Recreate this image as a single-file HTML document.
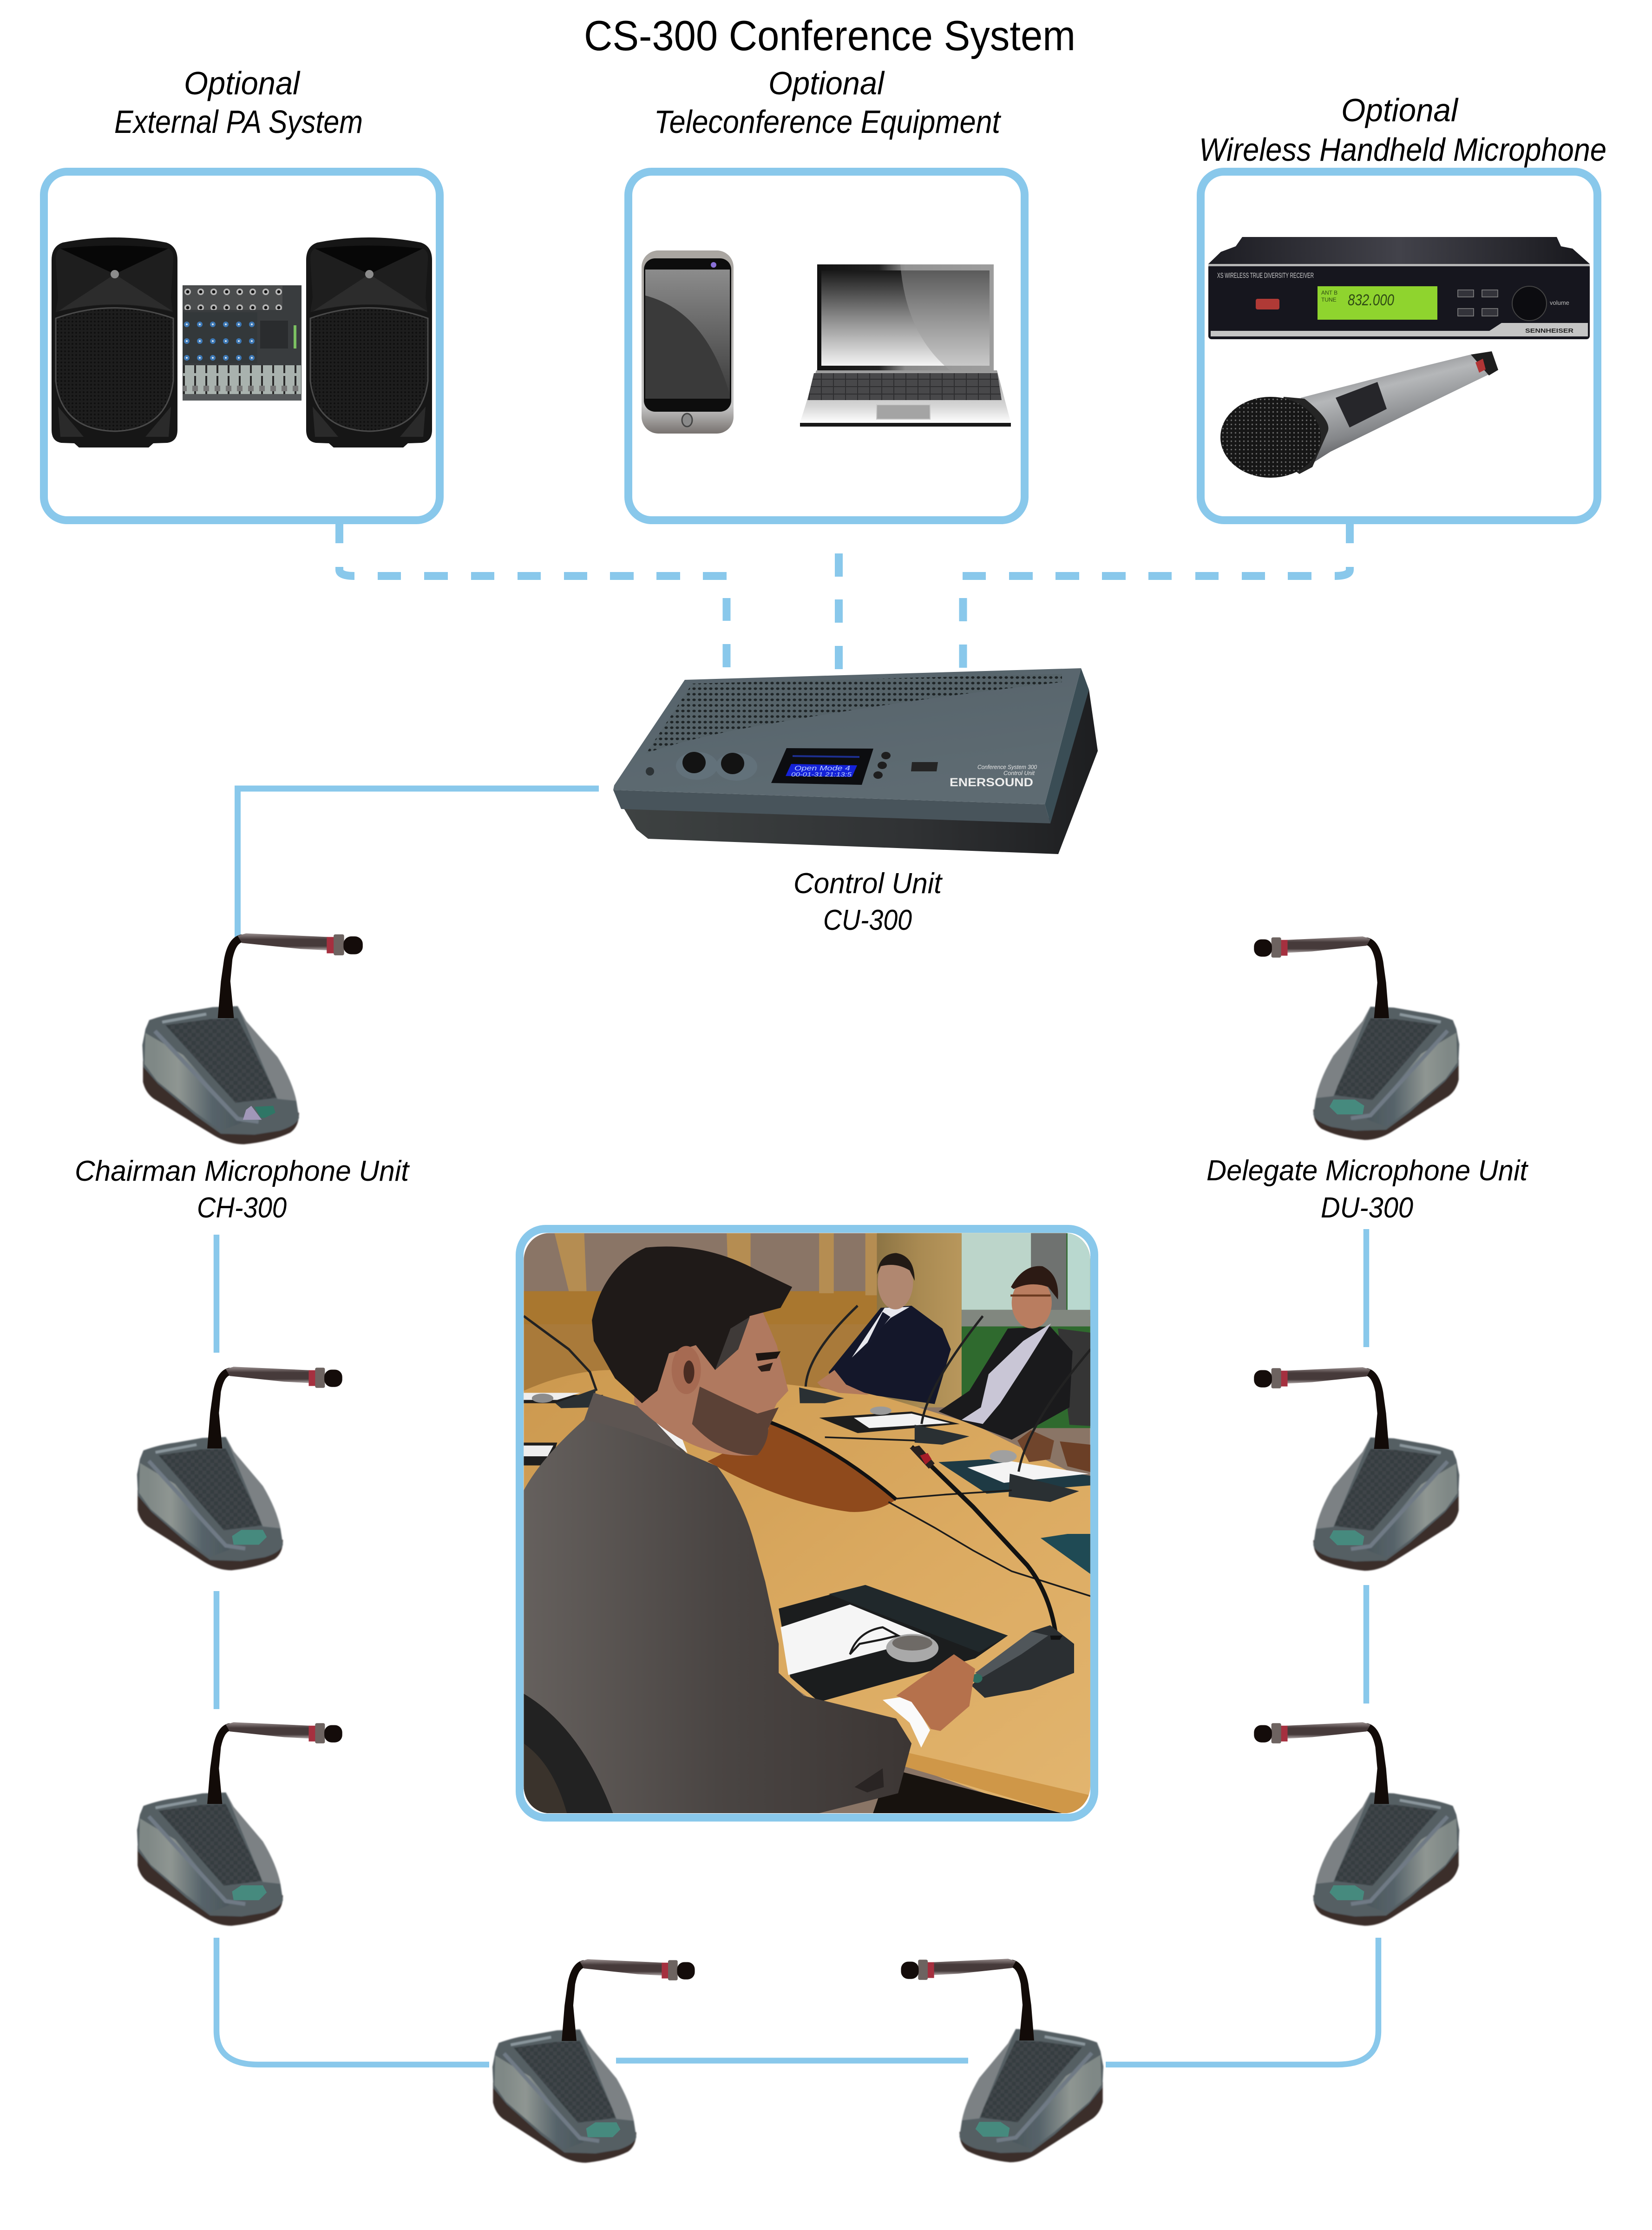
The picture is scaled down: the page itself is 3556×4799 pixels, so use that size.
<!DOCTYPE html>
<html><head><meta charset="utf-8"><title>CS-300 Conference System</title>
<style>html,body{margin:0;padding:0;background:#fff}svg{display:block}
text{font-family:"Liberation Sans",sans-serif;fill:#000}</style></head><body>
<svg xmlns="http://www.w3.org/2000/svg" width="3556" height="4799" viewBox="0 0 3556 4799">
<defs>
<filter id="soft" x="-5%" y="-5%" width="110%" height="110%"><feGaussianBlur stdDeviation="3"/></filter>
<linearGradient id="mSide" x1="0" y1="0" x2="1" y2="0"><stop offset=".1" stop-color="#7f8886"/><stop offset=".35" stop-color="#8f9692"/><stop offset=".7" stop-color="#56636a"/><stop offset="1" stop-color="#4c575c"/></linearGradient>
<linearGradient id="mBar" x1="0" y1="0" x2="0" y2="1"><stop offset="0" stop-color="#9a9090"/><stop offset=".35" stop-color="#463a3a"/><stop offset=".75" stop-color="#463a3a"/><stop offset="1" stop-color="#b0a8a8"/></linearGradient>
<pattern id="chk" width="40" height="40" patternUnits="userSpaceOnUse"><rect width="40" height="40" fill="#3f4548"/><rect width="20" height="20" fill="#363c3f"/><rect x="20" y="20" width="20" height="20" fill="#363c3f"/></pattern>
<pattern id="dots" width="12" height="12" patternUnits="userSpaceOnUse"><rect width="12" height="12" fill="#566369"/><ellipse cx="6" cy="6" rx="3.6" ry="2.8" fill="#1e2426"/></pattern>
<pattern id="spk" width="8" height="8" patternUnits="userSpaceOnUse"><rect width="8" height="8" fill="#1d1d1d"/><circle cx="4" cy="4" r="2" fill="#0f0f0f"/></pattern>
<pattern id="mixK" width="28" height="36" patternUnits="userSpaceOnUse"><rect width="28" height="36" fill="#33383a"/><circle cx="10" cy="14" r="6" fill="#3d78b5"/><circle cx="10" cy="14" r="2" fill="#d8e4ef"/></pattern>
<pattern id="mixJ" width="28" height="34" patternUnits="userSpaceOnUse"><rect width="28" height="34" fill="#4a4c4d"/><circle cx="12" cy="16" r="7" fill="#b8b8b8"/><circle cx="12" cy="16" r="3.5" fill="#111"/></pattern>
<pattern id="mixF" width="24" height="62" patternUnits="userSpaceOnUse"><rect width="24" height="62" fill="#a9b2ae"/><rect x="10" y="3" width="4" height="56" fill="#2a2a2a"/><rect x="6" y="24" width="12" height="12" fill="#777"/></pattern>
<pattern id="keys" width="26" height="16" patternUnits="userSpaceOnUse"><rect width="26" height="16" fill="#2e2e30"/><rect x="1" y="1" width="24" height="14" fill="#48484a"/></pattern>
<pattern id="mesh" width="9" height="9" patternUnits="userSpaceOnUse"><rect width="9" height="9" fill="#161616"/><circle cx="4.5" cy="4.5" r="1.7" fill="#666"/></pattern>
<linearGradient id="cuTop" x1="0" y1="0" x2=".4" y2="1"><stop offset="0" stop-color="#56636b"/><stop offset="1" stop-color="#5e6b72"/></linearGradient>
<linearGradient id="cuBase" x1="0" y1="0" x2="1" y2="0"><stop offset="0" stop-color="#3e4242"/><stop offset=".6" stop-color="#303234"/><stop offset="1" stop-color="#1d1e20"/></linearGradient>
<linearGradient id="phS" x1="0" y1="0" x2="0" y2="1"><stop offset="0" stop-color="#8c8c8c"/><stop offset="1" stop-color="#3a3a3a"/></linearGradient>
<linearGradient id="phB" x1="0" y1="0" x2="0" y2="1"><stop offset="0" stop-color="#a9a5a0"/><stop offset=".85" stop-color="#c6c6c6"/><stop offset="1" stop-color="#77726f"/></linearGradient>
<linearGradient id="lapF" x1="0" y1="0" x2="1" y2="0"><stop offset="0" stop-color="#111"/><stop offset=".35" stop-color="#222"/><stop offset=".5" stop-color="#8a8a8a"/><stop offset="1" stop-color="#9c9c9c"/></linearGradient>
<linearGradient id="lapS" x1="0" y1="0" x2="0" y2="1"><stop offset="0" stop-color="#181818"/><stop offset=".5" stop-color="#8a8a8a"/><stop offset="1" stop-color="#f4f4f4"/></linearGradient>
<linearGradient id="lapB" x1="0" y1="0" x2="0" y2="1"><stop offset="0" stop-color="#9a9a9a"/><stop offset=".7" stop-color="#d8d8d8"/><stop offset="1" stop-color="#ffffff"/></linearGradient>
<linearGradient id="rxT" x1="0" y1="0" x2="1" y2="0"><stop offset="0" stop-color="#1c1c22"/><stop offset=".5" stop-color="#42424a"/><stop offset="1" stop-color="#17171c"/></linearGradient>
<linearGradient id="hhB" x1="0" y1="0" x2=".45" y2="1"><stop offset="0" stop-color="#5a5a5e"/><stop offset=".4" stop-color="#b5b7b9"/><stop offset=".7" stop-color="#85878a"/><stop offset="1" stop-color="#3e3e42"/></linearGradient>
<linearGradient id="tbl" x1="0" y1="0" x2="1" y2="1"><stop offset="0" stop-color="#cc994f"/><stop offset=".6" stop-color="#dcab62"/><stop offset="1" stop-color="#e2b56f"/></linearGradient>
<linearGradient id="curt" x1="0" y1="0" x2="1" y2="0"><stop offset="0" stop-color="#8c7444"/><stop offset=".5" stop-color="#a98a52"/><stop offset="1" stop-color="#b8975c"/></linearGradient>
<linearGradient id="sui" x1="0" y1="0" x2="1" y2="0"><stop offset="0" stop-color="#65605d"/><stop offset=".5" stop-color="#4a4543"/><stop offset="1" stop-color="#3c3634"/></linearGradient>
<clipPath id="phc"><rect x="33" y="60" width="1471" height="1398" rx="66"/></clipPath>
<g id="mic">
<g filter="url(#soft)">
<path d="M148,800 L148,905 Q160,960 200,990 L490,1175 Q560,1218 630,1218 Q760,1205 850,1160 Q893,1130 893,1060 L700,1000Z" fill="#3b2e2c"/>
<path d="M178,595 Q260,565 340,555 L480,530 L600,525 L640,600 L790,780 Q860,900 880,1000 L893,1085 Q880,1125 800,1150 L680,1170 L520,1165 L400,1075 L220,915 L150,830 L145,720 L160,640Z" fill="#555f64"/>
<path d="M600,525 L640,600 L790,780 Q860,900 880,1000 L790,990 Z" fill="#7b8184"/>
<path d="M160,660 L340,770 L620,1110 L520,1150 L400,1060 L215,900 L155,815Z" fill="url(#mSide)"/>
<path d="M255,620 L470,590 L600,585 L770,940 L785,985 L590,1010Z" fill="url(#chk)"/>
<path d="M205,650 L600,1090 L700,1105" stroke="#6f7a85" stroke-width="20" fill="none"/>
<path d="M240,605 L450,565" stroke="#8b979d" stroke-width="14"/>
</g>
<path d="M505,585 L520,400 L535,290 Q555,175 620,165 L620,205 Q590,215 575,290 L565,400 L582,585Z" fill="#120b08"/>
<path d="M600,172 L640,160 L1030,178 L1030,245 L900,238 L620,208Z" fill="url(#mBar)"/>
<rect x="1025" y="178" width="35" height="82" fill="#a5303f"/>
<rect x="1058" y="165" width="50" height="105" rx="8" fill="#6d6360"/>
<rect x="1105" y="175" width="92" height="90" rx="38" fill="#140c0a"/>
</g>
<path id="tb" d="M632,1040 L680,1008 L790,1008 L810,1045 L770,1085 L640,1085Z" fill="#468a7e"/>
<g id="spkr">
<path d="M135,522 Q246,500 358,522 Q382,530 382,560 L382,925 Q382,950 360,953 L330,954 L320,963 L170,963 L160,954 L132,953 Q111,950 111,925 L111,560 Q111,530 135,522Z" fill="#161616"/>
<path d="M130,535 Q246,522 362,535 Q375,540 373,560 L368,640 L372,672 Q246,640 120,672 L125,640 L120,560 Q119,540 130,535Z" fill="#1e1e1e"/>
<path d="M130,535 L247,590 L362,535 Q246,522 130,535Z" fill="#070707"/>
<path d="M125,670 L247,590 L372,670 Q246,640 125,670Z" fill="#2c2c2c"/>
<circle cx="247" cy="590" r="9" fill="#8c8c8c"/>
<path d="M120,685 Q246,640 373,685 L373,820 Q360,925 247,928 Q132,925 120,820Z" fill="url(#spk)" stroke="#4a4a4a" stroke-width="3"/>
<path d="M125,875 L180,940 L130,940ZM368,875 L313,940 L363,940Z" fill="#2a2a2a"/>
</g>
</defs>
<rect width="3556" height="4799" fill="#fff"/>

<!-- connectors -->
<g fill="none" stroke="#89c8eb">
<rect x="94.5" y="369.5" width="852" height="750" rx="50" stroke-width="17"/>
<rect x="1352.5" y="369.5" width="853" height="750" rx="50" stroke-width="17"/>
<rect x="2584.5" y="369.5" width="854" height="750" rx="50" stroke-width="17"/>
<g stroke-width="17">
<path d="M730.5,1128V1169M730.5,1220V1226Q730.5,1239.5 763,1239.5"/>
<path d="M813,1239.5H863M913,1239.5H964M1014,1239.5H1064M1114,1239.5H1164M1214,1239.5H1264M1313,1239.5H1364M1413,1239.5H1464M1513,1239.5H1564"/>
<path d="M1564,1287V1336M1564,1386V1436M1805.5,1191V1241M1805.5,1290V1340M1805.5,1390V1440M2073,1287V1337M2073,1387V1437"/>
<path d="M2072,1239.5H2122M2172,1239.5H2223M2272,1239.5H2323M2372,1239.5H2423M2472,1239.5H2522M2573,1239.5H2623M2673,1239.5H2723M2772,1239.5H2823M2873,1239.5Q2905.5,1239.5 2905.5,1226V1220M2905.5,1169V1128"/>
</g>
<path d="M511.5,2020V1697H1289" stroke-width="13"/>
<g stroke-width="12.5">
<path d="M466,2657V2911M466,3424V3678"/>
<path d="M466,4170V4370Q466,4443 556,4443H1053"/>
<path d="M1326,4434.5H2084"/>
<path d="M2380,4443H2878Q2967,4443 2967,4370V4170"/>
<path d="M2941,2645V2899M2941,3411V3666"/>
</g>
</g>

<!-- speakers -->
<use href="#spkr"/>
<use href="#spkr" x="548"/>
<!-- mixer -->
<rect x="393" y="614" width="256" height="248" fill="#393c3e"/>
<rect x="394" y="615" width="214" height="52" fill="url(#mixJ)"/>
<rect x="394" y="672" width="160" height="110" fill="url(#mixK)"/>
<rect x="560" y="690" width="60" height="60" fill="#2a2c2e"/>
<rect x="632" y="700" width="6" height="50" fill="#7bc061"/>
<rect x="394" y="786" width="254" height="62" fill="url(#mixF)"/>
<rect x="393" y="848" width="256" height="14" fill="#55585a"/>

<!-- phone -->
<rect x="1381" y="539" width="198" height="394" rx="36" fill="url(#phB)"/>
<rect x="1386" y="556" width="188" height="330" rx="24" fill="#0d0d0d"/>
<rect x="1389" y="580" width="182" height="278" fill="url(#phS)"/>
<path d="M1389,636 Q1520,670 1571,850 L1571,858 L1389,858Z" fill="#3a3a3a"/>
<ellipse cx="1479" cy="904" rx="11" ry="14" fill="#8a8a8a" stroke="#444" stroke-width="3"/>
<circle cx="1536" cy="570" r="6" fill="#8a70d8"/>

<!-- laptop -->
<rect x="1759" y="569" width="380" height="228" fill="url(#lapF)"/>
<rect x="1768" y="582" width="362" height="205" fill="url(#lapS)"/>
<path d="M1938,569 H2139 V797 H2045 Q1950,720 1938,569Z" fill="#9d9d9d" opacity=".5"/>
<path d="M1757,797 H2146 L2176,910 H1722Z" fill="url(#lapB)"/>
<path d="M1752,803 H2147 L2156,861 H1738Z" fill="url(#keys)"/>
<rect x="1887" y="871" width="115" height="31" fill="#a4a4a4" stroke="#c8c8c8" stroke-width="2"/>
<rect x="1722" y="910" width="454" height="8" fill="#191919"/>

<!-- receiver -->
<path d="M2674,510 H3351 L3360,530 L3385,535 L3422,568 H2601 L2628,542 L2660,530Z" fill="url(#rxT)"/>
<rect x="2601" y="568" width="821" height="162" rx="7" fill="#16161e"/>
<rect x="2601" y="568" width="821" height="5" fill="#b5b5b5"/>
<path d="M2606,712 H3206 L3232,695 H3418 V724 H2606Z" fill="#c5c5c5"/>
<rect x="2836" y="616" width="258" height="72" fill="#8fd42e"/>
<text x="2901" y="657" font-size="34" font-style="italic" textLength="100" lengthAdjust="spacingAndGlyphs" style="fill:#2f4b14">832.000</text>
<text x="2844" y="634" font-size="12" style="fill:#2f4b14">ANT B</text>
<text x="2844" y="649" font-size="12" style="fill:#2f4b14">TUNE</text>
<rect x="2703" y="643" width="51" height="23" rx="4" fill="#b03a36"/>
<g fill="#33333a" stroke="#888" stroke-width="1.5"><rect x="3138" y="624" width="34" height="15"/><rect x="3190" y="624" width="34" height="15"/><rect x="3138" y="664" width="34" height="16"/><rect x="3190" y="664" width="34" height="16"/></g>
<circle cx="3292" cy="653" r="37" fill="#0c0c10" stroke="#444" stroke-width="2"/>
<text x="2620" y="598" font-size="16" textLength="208" lengthAdjust="spacingAndGlyphs" style="fill:#ccc">XS WIRELESS TRUE DIVERSITY RECEIVER</text>
<text x="3283" y="716" font-size="13" font-weight="bold" textLength="104" lengthAdjust="spacingAndGlyphs" style="fill:#222">SENNHEISER</text>
<text x="3336" y="656" font-size="13" style="fill:#bbb">volume</text>

<!-- handheld mic -->
<path d="M2800,856 L3032,796 L3166,763 L3205,765 L3225,796 L3054,879 L2864,972 L2820,1000Z" fill="url(#hhB)"/>
<path d="M3166,763 L3211,756 L3225,796 L3205,808Z" fill="#1e1e1e"/>
<path d="M3176,780 L3192,772 L3198,795 L3184,802Z" fill="#b23535"/>
<path d="M2875,856 L2965,822 L2985,880 L2905,920Z" fill="#26262a"/>
<path d="M2763,854 L2808,858 Q2868,905 2858,929 L2825,1005 L2797,1020 L2740,980Z" fill="#252525"/>
<ellipse cx="2735" cy="941" rx="108" ry="87" fill="url(#mesh)"/>

<!-- control unit -->
<path d="M1340,1735 L2261,1760 L2344,1484 L2363,1616 L2278,1838 L1395,1805 L1370,1785Z" fill="url(#cuBase)"/>
<path d="M1320,1700 L2249,1731 L2261,1772 L1337,1741Z" fill="#48545b"/>
<path d="M2327,1438 L2344,1484 L2261,1772 L2249,1731Z" fill="#3a4d55"/>
<path d="M1474,1463 L2327,1438 L2249,1731 L1320,1700 L1322,1690Z" fill="url(#cuTop)"/>
<path d="M1490,1471 L2286,1450 L2286,1468 Q1950,1505 1615,1565 Q1480,1590 1391,1621Z" fill="url(#dots)"/>
<path d="M1693,1610 L1880,1611 L1855,1689 L1660,1685Z" fill="#0c0d10"/>
<path d="M1706,1627 L1850,1629" stroke="#1d2f90" stroke-width="4"/>
<path d="M1703,1644 L1845,1647 L1834,1672 L1691,1670Z" fill="#1422d8"/>
<text x="1710" y="1658" font-size="15" font-style="italic" textLength="120" lengthAdjust="spacingAndGlyphs" style="fill:#bcd0ff">Open Mode 4</text>
<text x="1703" y="1671" font-size="13" font-style="italic" textLength="130" lengthAdjust="spacingAndGlyphs" style="fill:#bcd0ff">00-01-31 21:13:5</text>
<ellipse cx="1500" cy="1648" rx="45" ry="30" fill="#62717a"/><ellipse cx="1585" cy="1650" rx="45" ry="30" fill="#62717a"/>
<ellipse cx="1494" cy="1641" rx="25" ry="23" fill="#131313"/><ellipse cx="1577" cy="1643" rx="25" ry="23" fill="#131313"/>
<ellipse cx="1907" cy="1626" rx="10" ry="8" fill="#1e1e1e"/><ellipse cx="1899" cy="1647" rx="10" ry="8" fill="#1e1e1e"/><ellipse cx="1890" cy="1668" rx="10" ry="8" fill="#1e1e1e"/>
<path d="M1963,1640 H2019 L2016,1660 H1961Z" fill="#252525"/>
<circle cx="1399" cy="1660" r="9" fill="#2d3336"/>
<text x="2104" y="1655" font-size="13" font-style="italic" textLength="128" lengthAdjust="spacingAndGlyphs" style="fill:#e5e5e5">Conference System 300</text>
<text x="2160" y="1668" font-size="13" font-style="italic" textLength="67" lengthAdjust="spacingAndGlyphs" style="fill:#e5e5e5">Control Unit</text>
<text x="2044" y="1692" font-size="25" font-weight="bold" textLength="180" lengthAdjust="spacingAndGlyphs" style="fill:#eeeeee">ENERSOUND</text>

<!-- microphones -->
<g transform="translate(241,1940) scale(.451,.429)"><use href="#mic"/><path d="M680,1030 L770,1025 L780,1060 L730,1085 L710,1085Z" fill="#2f7666"/><path d="M625,1095 L640,1045 L665,1025 L715,1095Z" fill="#a197b8"/></g>
<g transform="translate(234,2875) scale(.42,.414)"><use href="#mic"/><use href="#tb"/></g>
<g transform="translate(234,3640) scale(.42,.414)"><use href="#mic"/><use href="#tb"/></g>
<g transform="translate(1000,4150) scale(.414,.414)"><use href="#mic"/><use href="#tb"/></g>
<g transform="translate(2435,4149) scale(-.414,.414)"><use href="#mic"/><use href="#tb"/></g>
<g transform="translate(3202,1949) scale(-.42,.414)"><use href="#mic"/><use href="#tb"/></g>
<g transform="translate(3202,2876) scale(-.42,.414)"><use href="#mic"/><use href="#tb"/></g>
<g transform="translate(3202,3640) scale(-.42,.414)"><use href="#mic"/><use href="#tb"/></g>

<!-- photo -->
<g transform="translate(1100,2600) scale(.829,.893)">
<g clip-path="url(#phc)">
<rect x="33" y="60" width="1471" height="1398" fill="#8a7566"/>
<rect x="33" y="200" width="920" height="80" fill="#a9772f"/>
<rect x="33" y="280" width="920" height="170" fill="#a97a3a"/>
<path d="M113,60H190L196,200H150ZM560,60H622L622,200H565ZM800,60H838V205H800ZM920,60H950V210H920Z" fill="#b58d52"/>
<rect x="950" y="60" width="220" height="420" fill="url(#curt)"/>
<rect x="1170" y="60" width="335" height="470" fill="#2f6a2e"/>
<rect x="1170" y="60" width="182" height="185" fill="#bcd5ca"/>
<rect x="1350" y="60" width="92" height="200" fill="#6f7270"/>
<rect x="1445" y="60" width="60" height="200" fill="#b9d8cf"/>
<rect x="1170" y="245" width="335" height="40" fill="#81877f"/>
<path d="M33,440 Q150,392 255,390 L720,425 L950,450 L1200,520 L1505,660 L1505,1420 L1450,1458 L1350,1450 L1020,1340 L33,700Z" fill="url(#tbl)"/>
<path d="M1020,1310 L1505,1415 V1458 H1430 L1020,1345Z" fill="#cf9748"/>
<path d="M980,1350 L1430,1458 H940Z" fill="#17120e"/>
<path d="M510,610 Q600,570 670,515 Q840,575 1000,702 Q950,735 880,732 Q700,710 510,610Z" fill="#8f4a1c"/>
<path d="M670,515 Q840,575 1000,702" fill="none" stroke="#111" stroke-width="9"/>
<!-- back papers, mics -->
<path d="M800,505 L1040,490 L1165,520 L900,542Z" fill="#1d1d1d"/><path d="M890,505 L1040,495 L1140,518 L930,530Z" fill="#f2f2f2"/>
<path d="M1110,612 L1240,605 L1505,645 V668 L1235,688Z" fill="#1e3a44"/><path d="M1185,625 L1300,610 L1500,640 L1280,662Z" fill="#f4f4f4"/>
<path d="M1375,795 L1445,785 H1505 V882Z" fill="#1f4a54"/>
<path d="M33,450H240L200,470H33Z M33,565H120L100,620H33Z" fill="#1e1e1e"/><path d="M33,445H180L120,462H33Z M33,572H110L95,598H33Z" fill="#eee"/>
<path d="M33,260 L150,340 L205,395 L222,440" fill="none" stroke="#222" stroke-width="6"/>
<path d="M115,470 L220,435 L215,480 L130,482Z" fill="#2a3033"/>
<ellipse cx="82" cy="458" rx="28" ry="11" fill="#8c8c8c"/>
<!-- back man -->
<path d="M825,395 L960,240 L1040,235 L1120,290 L1142,340 L1100,472 L950,452 L830,425Z" fill="#14172a"/>
<path d="M885,360 L970,240 L1035,238 L985,265 L930,320Z" fill="#e8e8ee"/>
<path d="M965,250 L985,262 L920,340 L885,400Z" fill="#15182c"/>
<path d="M795,420 L840,390 L870,425 L930,450 L850,445 L805,430Z" fill="#b27a5c"/>
<ellipse cx="998" cy="178" rx="46" ry="66" fill="#b08770"/>
<path d="M950,160 Q955,110 1000,108 Q1048,115 1048,175 L1035,150 Q1000,130 960,140Z" fill="#221a15"/>
<!-- woman -->
<path d="M1420,290 L1505,300 V525 L1450,522Z" fill="#353535"/>
<path d="M1110,490 L1190,440 L1290,290 L1400,285 L1458,345 L1450,480 L1300,558 L1170,512Z" fill="#1a1a1c"/>
<path d="M1170,510 L1220,480 L1240,400 L1330,320 L1402,278 L1340,370 L1270,470 L1225,520Z" fill="#c9c6d6"/>
<ellipse cx="1352" cy="228" rx="52" ry="62" fill="#b97d60"/>
<path d="M1298,190 Q1330,135 1380,140 Q1425,160 1420,220 L1395,190 Q1350,175 1305,195Z" fill="#2c1a14"/>
<rect x="1297" y="208" width="104" height="5" fill="#6b3a20"/>
<path d="M1315,560 L1350,535 L1410,560 L1400,605 L1345,612Z" fill="#70452c"/><path d="M1425,562 L1505,570 V636 L1445,622Z" fill="#6b3f26"/>
<g fill="none" stroke="#222" stroke-width="6"><path d="M765,430 Q770,350 900,235"/><path d="M1066,520 Q1080,430 1225,260"/><path d="M1318,635 Q1340,520 1505,340"/></g>
<path d="M748,432 L865,458 L815,470 L750,470Z M1048,522 L1190,550 L1120,570 L1048,565Z M1295,640 L1475,682 L1400,708 L1292,695Z" fill="#2a3033"/>
<ellipse cx="960" cy="488" rx="28" ry="10" fill="#9a9a9a"/><ellipse cx="1278" cy="598" rx="35" ry="15" fill="#a0a0a0"/>
<g fill="none" stroke="#1b1b1b" stroke-width="4"><path d="M980,708 L1100,770 L1200,825 L1300,875 L1505,935"/><path d="M1000,700 L1130,690 L1300,680"/><path d="M815,552 L1050,560"/></g>
<!-- portfolio front -->
<path d="M695,965 L920,908 L1290,1030 L1205,1085 L800,1190 L725,1130Z" fill="#1b1d1e"/>
<path d="M825,930 L920,908 L1290,1030 L1215,1070Z" fill="#20282b"/>
<path d="M700,1010 L880,955 L1090,1035 L720,1125Z" fill="#f5f5f5"/>
<ellipse cx="1042" cy="1060" rx="68" ry="34" fill="#a9a9a9"/><ellipse cx="1042" cy="1048" rx="52" ry="18" fill="#6e6a66"/>
<path d="M880,1075 Q900,1020 965,1010 L1005,1030 L960,1040 L905,1050Z" fill="none" stroke="#1b1b1b" stroke-width="5"/>
<!-- front mic -->
<path d="M1040,575 L1200,720 L1340,860 Q1400,930 1415,1030" fill="none" stroke="#121212" stroke-width="11"/>
<path d="M1035,578 L1060,572 L1100,615 L1085,628Z" fill="#27201f"/><path d="M1062,596 L1082,590 L1092,605 L1076,618Z" fill="#a51d28"/>
<path d="M1195,1150 L1350,1020 L1400,1005 L1462,1050 V1120 L1350,1160 L1230,1180Z" fill="#2b2f32"/>
<path d="M1205,1120 L1350,1020 L1395,1030 L1325,1075 L1225,1130Z" fill="#50565a"/>
<ellipse cx="1210" cy="1133" rx="14" ry="11" fill="#2f6d60"/>
<path d="M1400,1030 H1432 L1425,1040 H1402Z" fill="#111"/>
<!-- chair lower left -->
<path d="M33,1170 Q180,1250 265,1458 H33Z" fill="#222"/><path d="M33,1290 Q110,1340 145,1458 H33Z" fill="#3a332c"/>
<!-- front man -->
<path d="M33,680 Q80,600 190,510 L215,445 L345,482 L455,590 L535,622 Q600,700 630,800 L660,900 L695,1050 L695,1120 L760,1175 L1000,1230 L1040,1290 L1005,1410 L800,1458 H265 Q180,1250 33,1170Z" fill="url(#sui)"/>
<path d="M190,510 L215,445 L350,485 L440,585 Q300,530 190,510Z" fill="#5d5552"/>
<path d="M345,485 L440,545 L458,590 L430,570Z" fill="#f1f1f1"/>
<path d="M892,1395 L965,1350 L968,1395 L925,1408Z" fill="#292423"/>
<path d="M965,1185 L1035,1175 L1088,1258 L1065,1300 L1035,1240Z" fill="#fafafa"/>
<path d="M1000,1175 L1150,1075 L1205,1110 L1190,1200 L1115,1260 L1090,1255 L1040,1190Z" fill="#b5714c"/>
<path d="M320,470 Q470,610 640,595 Q670,560 670,510 L690,470 L720,440 L690,330 L640,220 Q550,190 400,260 L320,430Z" fill="#b0795f"/>
<path d="M470,520 Q550,600 640,595 Q668,565 668,530 L695,480 L640,495 L580,470 L490,430Z" fill="#5b4136"/>
<path d="M210,270 Q240,140 350,95 Q500,80 640,150 L730,190 L700,240 L620,260 L570,350 L530,390 L480,330 L410,350 L380,440 L340,470 L270,410 L215,320Z" fill="#1f1a18"/>
<path d="M530,390 L570,290 L620,262 L590,340Z" fill="#3f3a38"/>
<ellipse cx="455" cy="390" rx="38" ry="58" fill="#a66a52"/><ellipse cx="462" cy="395" rx="14" ry="28" fill="#4a2c22"/>
<path d="M635,350 L700,345 L690,362 L640,368Z" fill="#1c1512"/>
<path d="M640,382 L680,372 L672,392 L650,394Z" fill="#2a1d18"/>
</g>
</g>
<rect x="1118.5" y="2644.5" width="1237" height="1267" rx="56" fill="none" stroke="#89c8eb" stroke-width="17"/>

<!-- text -->
<text x="1257" y="108" font-size="91" textLength="1058" lengthAdjust="spacingAndGlyphs">CS-300 Conference System</text>
<g font-style="italic">
<g font-size="70">
<text x="396" y="203" textLength="249" lengthAdjust="spacingAndGlyphs">Optional</text>
<text x="246" y="286" textLength="535" lengthAdjust="spacingAndGlyphs">External PA System</text>
<text x="1654" y="203" textLength="249" lengthAdjust="spacingAndGlyphs">Optional</text>
<text x="1408" y="286" textLength="745" lengthAdjust="spacingAndGlyphs">Teleconference Equipment</text>
<text x="2887" y="261" textLength="251" lengthAdjust="spacingAndGlyphs">Optional</text>
<text x="2581" y="346" textLength="877" lengthAdjust="spacingAndGlyphs">Wireless Handheld Microphone</text>
</g>
<g font-size="62">
<text x="1708" y="1922" textLength="319" lengthAdjust="spacingAndGlyphs">Control Unit</text>
<text x="1772" y="2001" textLength="191" lengthAdjust="spacingAndGlyphs">CU-300</text>
<text x="161" y="2541" textLength="719" lengthAdjust="spacingAndGlyphs">Chairman Microphone Unit</text>
<text x="424" y="2620" textLength="193" lengthAdjust="spacingAndGlyphs">CH-300</text>
<text x="2597" y="2540" textLength="691" lengthAdjust="spacingAndGlyphs">Delegate Microphone Unit</text>
<text x="2843" y="2620" textLength="199" lengthAdjust="spacingAndGlyphs">DU-300</text>
</g>
</g>
</svg>
</body></html>
